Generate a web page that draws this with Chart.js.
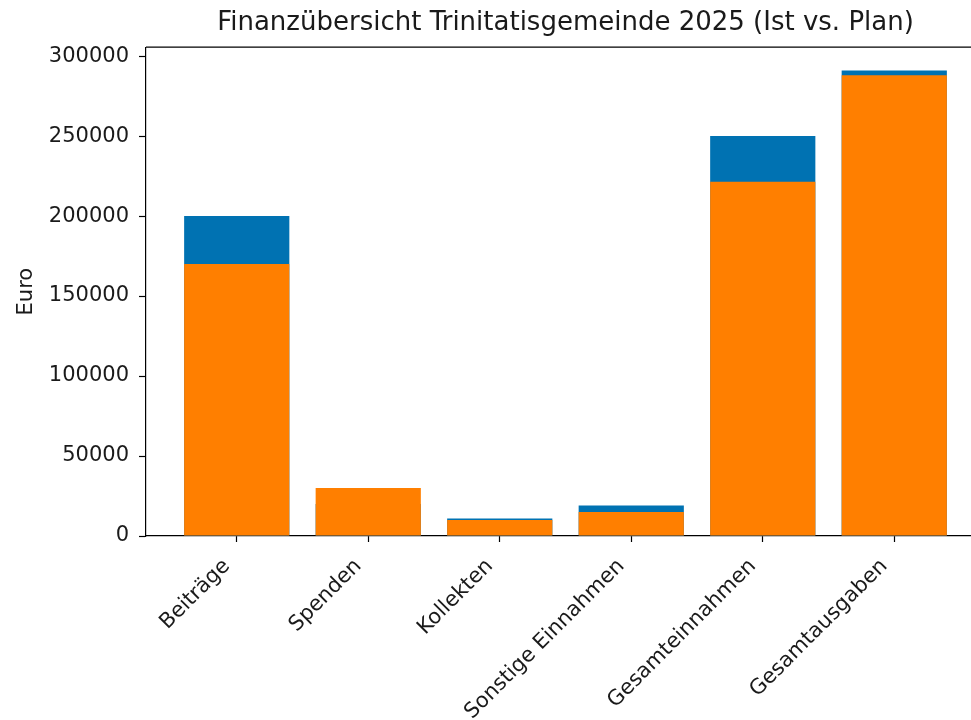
<!DOCTYPE html>
<html>
<head>
<meta charset="utf-8">
<script src="https://cdn.jsdelivr.net/npm/chart.js@4/dist/chart.umd.min.js"></script>
<style>
  html, body { margin: 0; padding: 0; background: #fff; overflow: hidden; }
  #wrap { width: 1000px; height: 720px; }
</style>
</head>
<body>
<div id="wrap"><canvas id="chart" width="1000" height="720"></canvas></div>
<script>
// Finanzübersicht: Plan (blau, hinten) und Ist (orange, vorne)
const categories = ['Beiträge', 'Spenden', 'Kollekten', 'Sonstige Einnahmen', 'Gesamteinnahmen', 'Gesamtausgaben'];
const planValues = [200000, 20000, 11000, 19000, 250000, 291000];
const istValues = [170000, 30000, 10000, 15000, 221500, 288000];
const yTicks = [0, 50000, 100000, 150000, 200000, 250000, 300000];

Chart.defaults.font.family = 'DejaVu Sans';
Chart.defaults.color = '#1a1a1a';

// top spine (matplotlib style frame)
const topSpine = {
  id: 'topSpine',
  afterDraw(chart) {
    const { ctx, chartArea } = chart;
    ctx.save();
    ctx.strokeStyle = '#000';
    ctx.lineWidth = 1.2;
    ctx.beginPath();
    ctx.moveTo(chartArea.left, chartArea.top);
    ctx.lineTo(chartArea.right, chartArea.top);
    ctx.stroke();
    ctx.restore();
  }
};

new Chart(document.getElementById('chart'), {
  type: 'bar',
  data: {
    datasets: [{
        label: 'Ist',
        data: istValues.map((v, i) => ({ x: i, y: v })),
        backgroundColor: '#ff7f00',
        grouped: false,
        order: 1,
        barPercentage: 0.8,
        categoryPercentage: 1.0
      }, {
        label: 'Plan',
        data: planValues.map((v, i) => ({ x: i, y: v })),
        backgroundColor: '#0072b2',
        grouped: false,
        order: 2,
        barPercentage: 0.8,
        categoryPercentage: 1.0
      }
    ]
  },
  options: {
    responsive: false,
    animation: false,
    layout: { padding: { left: 0, right: 15, top: 0, bottom: 0 } },
    plugins: {
      legend: { display: false },
      tooltip: { enabled: false },
      title: {
        display: true,
        fullSize: false,
        text: 'Finanzübersicht Trinitatisgemeinde 2025 (Ist vs. Plan)',
        font: { size: 26, weight: 'normal' },
        color: '#1a1a1a',
        padding: { top: 8, bottom: 8 }
      }
    },
    scales: {
      x: {
        type: 'linear',
        offset: false,
        min: -0.69,
        max: 5.69,
        afterBuildTicks: (s) => { s.ticks = categories.map((c, i) => ({ value: i })); },
        afterFit: (s) => { s.height = 184; },
        ticks: {
          autoSkip: false,
          minRotation: 45,
          maxRotation: 45,
          padding: 12,
          labelOffset: -10,
          font: { size: 21 },
          callback: (v) => categories[Math.round(v)]
        },
        grid: { offset: false, drawOnChartArea: false, drawTicks: true, tickLength: 6, tickColor: '#000', tickWidth: 1.2 },
        border: { display: true, color: '#000', width: 1.2 }
      },
      y: {
        min: 0,
        max: 305550,
        afterBuildTicks: (s) => { s.ticks = yTicks.map((v) => ({ value: v })); },
        afterFit: (s) => { s.width = 146; },
        ticks: {
          padding: 10,
          font: { size: 21 },
          callback: (v) => String(v)
        },
        title: {
          display: true,
          text: 'Euro',
          font: { size: 21 },
          padding: { top: 14, bottom: 0 }
        },
        grid: { drawOnChartArea: false, drawTicks: true, tickLength: 7, tickColor: '#000', tickWidth: 1.2 },
        border: { display: true, color: '#000', width: 1.2 }
      }
    }
  },
  plugins: [topSpine]
});
</script>
</body>
</html>
